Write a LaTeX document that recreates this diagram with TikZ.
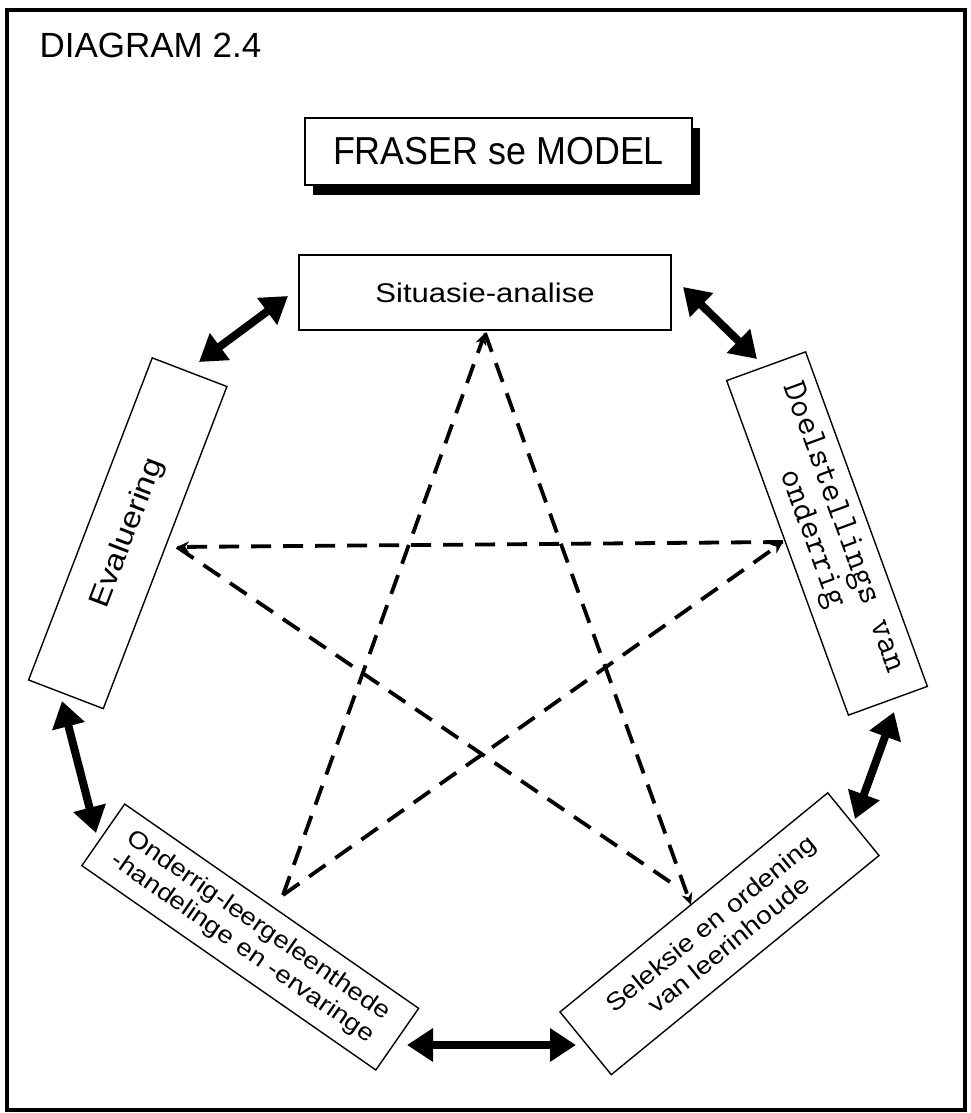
\documentclass[tikz,border=0pt]{standalone}
\usepackage{fontspec}
\setmainfont{Liberation Sans}
\newfontfamily\boxfont[FakeStretch=1.15]{Liberation Sans}
\newfontfamily\headfont[FakeStretch=0.92]{Liberation Sans}
\usetikzlibrary{arrows.meta}

\begin{document}
\begin{tikzpicture}[x=1pt,y=-1pt,
  stage/.style={draw, line width=1.4pt, fill=white, inner sep=0pt, align=center},
  link/.style={line width=8pt,
    {Triangle[length=26pt,width=32pt]}-{Triangle[length=26pt,width=32pt]}},
  cross/.style={line width=3.8pt, dash pattern=on 20pt off 12pt},
  tip/.style={-{Stealth[length=12pt,width=11pt]}}
]
\useasboundingbox (0,0) rectangle (971,1113);
\fill[white] (0,0) rectangle (971,1113);
\draw[line width=3.5pt] (7,10) rectangle (965,1110);

\node[anchor=west, font=\fontsize{35}{40}\selectfont] (title) at (36,45) {DIAGRAM 2.4};

% heading box with its solid shadow
\fill (313,128) rectangle (700,195);
\node[stage, minimum width=387pt, minimum height=67pt,
      font=\headfont\fontsize{39}{40}\selectfont] (model) at (498.5,151.5) {FRASER se MODEL};

% the five stages
\node[stage, minimum width=372pt, minimum height=75pt,
      font=\boxfont\fontsize{27}{30}\selectfont] (sit) at (485,292.5) {Situasie-analise};
\node[stage, rotate=-70, minimum width=356pt, minimum height=84pt,
      font=\ttfamily\fontsize{35}{33}\selectfont] (doel) at (827,533.5) {Doelstellings van\\onderrig};
\node[stage, rotate=69, minimum width=345pt, minimum height=80pt,
      font=\boxfont\fontsize{29}{30}\selectfont] (eval) at (127.75,533.25) {Evaluering};
\node[stage, rotate=-34.8, minimum width=358pt, minimum height=75pt,
      font=\boxfont\fontsize{24}{27.5}\selectfont] (ond) at (250.25,937) {Onderrig-leergeleenthede\\-handelinge en -ervaringe};
\node[stage, rotate=39.3, minimum width=346pt, minimum height=81pt,
      font=\boxfont\fontsize{24.5}{28}\selectfont] (sel) at (719.5,933.75) {Seleksie en ordening\\van leerinhoude};

% ends of the dashed star
\coordinate (pA) at (485,333);
\coordinate (pB) at (783,542);
\coordinate (pC) at (691,905);
\coordinate (pCe) at (676,886);
\coordinate (pD) at (283,895);
\coordinate (pE) at (177,547);

\draw[cross, tip] (pD) -- (pA);
\draw[cross, tip] (pA) -- (pC);
\draw[cross, tip] (pB) -- (pE);
\draw[cross, tip] (pD) -- (pB);
\draw[cross] (pE) -- (pCe);

% ends of the thick two-way arrows
\coordinate (a1) at (288,296); \coordinate (b1) at (199,362);
\coordinate (a2) at (683,287); \coordinate (b2) at (757,359);
\coordinate (a3) at (894,712); \coordinate (b3) at (855,819);
\coordinate (a4) at (576,1045); \coordinate (b4) at (407,1045);
\coordinate (a5) at (96,833);  \coordinate (b5) at (62,701);

\draw[link] (b1) -- (a1);
\draw[link] (a2) -- (b2);
\draw[link] (a3) -- (b3);
\draw[link] (b4) -- (a4);
\draw[link] (b5) -- (a5);
\end{tikzpicture}
\end{document}
